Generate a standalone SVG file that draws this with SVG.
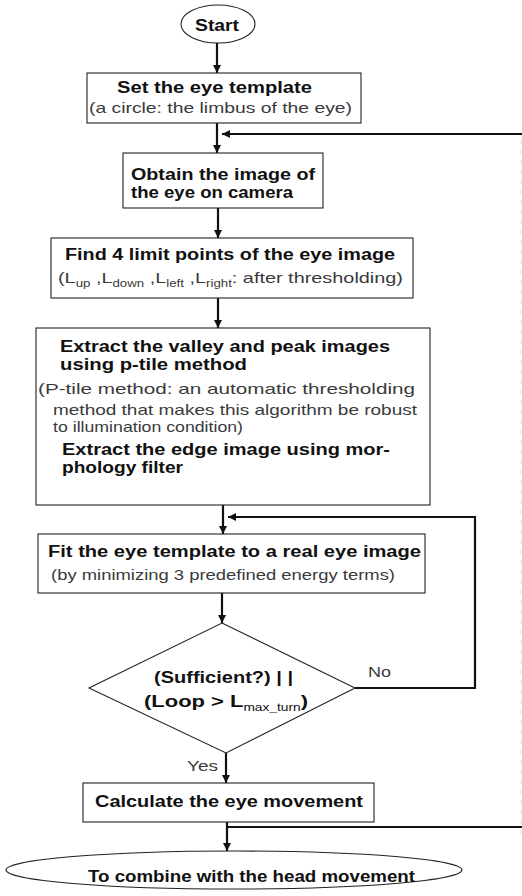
<svg xmlns="http://www.w3.org/2000/svg" width="522" height="896" viewBox="0 0 522 896">
<defs>
<style>
.box{fill:#fff;stroke:#222;stroke-width:1.1}
.b{font-family:"Liberation Sans",Arial,sans-serif;font-weight:bold;font-size:16px;fill:#111}
.n{font-family:"Liberation Sans",Arial,sans-serif;font-size:15px;fill:#3a3a3a}
.s{font-size:10px;font-weight:normal}
.c{fill:none;stroke:#111;stroke-width:2.2}
</style>
<marker id="ah" viewBox="0 0 10 10" refX="10" refY="5" markerWidth="8" markerHeight="9" markerUnits="userSpaceOnUse" orient="auto"><path d="M0,0 L10,5 L0,10 z" fill="#111"/></marker>
</defs>
<rect width="522" height="896" fill="#fff"/>

<g id="connectors">
<path class="c" d="M217,43 V73" marker-end="url(#ah)"/>
<path class="c" d="M217,123 V153" marker-end="url(#ah)"/>
<path class="c" d="M522,134 H222" marker-end="url(#ah)"/>
<path class="c" d="M218,208 V238" marker-end="url(#ah)"/>
<path class="c" d="M218,298 V328" marker-end="url(#ah)"/>
<path class="c" d="M223,505 V534" marker-end="url(#ah)"/>
<path class="c" d="M355,688 H475 V517 H228" marker-end="url(#ah)"/>
<path class="c" d="M222,593 V623" marker-end="url(#ah)"/>
<path class="c" d="M226,753 V783" marker-end="url(#ah)"/>
<path class="c" d="M227,822 V851" marker-end="url(#ah)"/>
<path class="c" d="M227,827 H522"/>
<path d="M521,140 V840" fill="none" stroke="#ddd" stroke-width="1" stroke-dasharray="4,6"/>
</g>

<g id="start">
<ellipse class="box" cx="218" cy="24" rx="37" ry="19"/>
<text class="b" x="217" y="31" text-anchor="middle" font-size="18" textLength="44" lengthAdjust="spacingAndGlyphs">Start</text>
</g>

<g id="set-template">
<rect class="box" x="87" y="73" width="274" height="50"/>
<text class="b" x="117" y="93" textLength="195" lengthAdjust="spacingAndGlyphs">Set the eye template</text>
<text class="n" x="89" y="113" textLength="263" lengthAdjust="spacingAndGlyphs">(a circle: the limbus of the eye)</text>
</g>

<g id="obtain-image">
<rect class="box" x="123" y="153" width="200" height="55"/>
<text class="b" x="131" y="180" textLength="184" lengthAdjust="spacingAndGlyphs">Obtain the image of</text>
<text class="b" x="131" y="198" textLength="162" lengthAdjust="spacingAndGlyphs">the eye on camera</text>
</g>

<g id="find-limits">
<rect class="box" x="51" y="238" width="362" height="60"/>
<text class="b" x="65" y="260" textLength="330" lengthAdjust="spacingAndGlyphs">Find 4 limit points of the eye image</text>
<text class="n" x="58" y="283" textLength="345" lengthAdjust="spacingAndGlyphs">(L<tspan class="s" dy="4">up</tspan><tspan dy="-4"> ,L</tspan><tspan class="s" dy="4">down</tspan><tspan dy="-4"> ,L</tspan><tspan class="s" dy="4">left</tspan><tspan dy="-4"> ,L</tspan><tspan class="s" dy="4">right</tspan><tspan dy="-4">: after thresholding)</tspan></text>
</g>

<g id="extract">
<rect class="box" x="36" y="328" width="394" height="177"/>
<text class="b" x="60" y="352" textLength="330" lengthAdjust="spacingAndGlyphs">Extract the valley and peak images</text>
<text class="b" x="60" y="370" textLength="187" lengthAdjust="spacingAndGlyphs">using p-tile method</text>
<text class="n" x="38" y="394" textLength="377" lengthAdjust="spacingAndGlyphs">(P-tile method:  an automatic thresholding</text>
<text class="n" x="53" y="415" textLength="364" lengthAdjust="spacingAndGlyphs">method that makes this algorithm be robust</text>
<text class="n" x="53" y="432" textLength="190" lengthAdjust="spacingAndGlyphs">to illumination condition)</text>
<text class="b" x="62" y="455" textLength="328" lengthAdjust="spacingAndGlyphs">Extract the edge image using mor-</text>
<text class="b" x="62" y="473" textLength="121" lengthAdjust="spacingAndGlyphs">phology filter</text>
</g>

<g id="fit-template">
<rect class="box" x="38" y="534" width="387" height="59"/>
<text class="b" x="48" y="557" textLength="373" lengthAdjust="spacingAndGlyphs">Fit the eye template to a real eye image</text>
<text class="n" x="51" y="580" textLength="344" lengthAdjust="spacingAndGlyphs">(by minimizing 3 predefined energy terms)</text>
</g>

<g id="decision">
<polygon class="box" points="222,623 355,688 226,753 89,688"/>
<text class="b" x="154" y="683" textLength="139" lengthAdjust="spacingAndGlyphs">(Sufficient?) | |</text>
<text class="b" x="144" y="707" textLength="164" lengthAdjust="spacingAndGlyphs">(Loop &gt; L<tspan class="s" dy="4">max_turn</tspan><tspan dy="-4">)</tspan></text>
<text class="n" x="368" y="677" textLength="23" lengthAdjust="spacingAndGlyphs">No</text>
<text class="n" x="187" y="771" textLength="31" lengthAdjust="spacingAndGlyphs">Yes</text>
</g>

<g id="calculate">
<rect class="box" x="83" y="783" width="291" height="39"/>
<text class="b" x="95" y="807" textLength="268" lengthAdjust="spacingAndGlyphs">Calculate the eye movement</text>
</g>

<g id="end">
<ellipse class="box" cx="234" cy="870" rx="228" ry="19"/>
<text class="b" x="88" y="882" textLength="327" lengthAdjust="spacingAndGlyphs">To combine with the head movement</text>
</g>
</svg>
